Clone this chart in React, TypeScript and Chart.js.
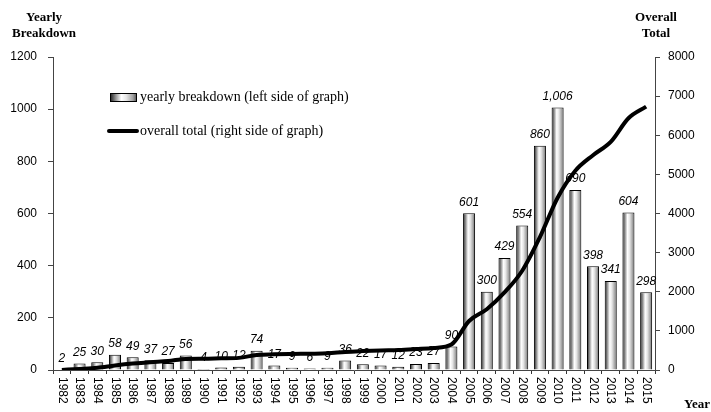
import React, { useEffect, useRef } from "react";
import { Chart, registerables } from "chart.js";

Chart.register(...registerables);

const years = [
  "1982", "1983", "1984", "1985", "1986", "1987", "1988", "1989", "1990", "1991", "1992",
  "1993", "1994", "1995", "1996", "1997", "1998", "1999", "2000", "2001", "2002", "2003",
  "2004", "2005", "2006", "2007", "2008", "2009", "2010", "2011", "2012", "2013", "2014", "2015",
];

const yearlyBreakdown = [
  2, 25, 30, 58, 49, 37, 27, 56, 4, 10, 12,
  74, 17, 9, 6, 9, 36, 22, 17, 12, 23, 27,
  90, 601, 300, 429, 554, 860, 1006, 690, 398, 341, 604, 298,
];

const overallTotal = [
  2, 27, 57, 115, 164, 201, 228, 284, 288, 298, 310,
  384, 401, 410, 416, 425, 461, 483, 500, 512, 535, 562,
  652, 1253, 1553, 1982, 2536, 3396, 4402, 5092, 5490, 5831, 6435, 6733,
];

const leftTicks = [0, 200, 400, 600, 800, 1000, 1200];
const rightTicks = [0, 1000, 2000, 3000, 4000, 5000, 6000, 7000, 8000];

const BAR_FRACTION = 0.68;
const SANS = "'Liberation Sans', Arial, sans-serif";
const SERIF = "'Liberation Serif', 'Times New Roman', serif";

function barGradient(ctx: CanvasRenderingContext2D, x0: number, x1: number) {
  const g = ctx.createLinearGradient(x0, 0, x1, 0);
  g.addColorStop(0, "#1a1a1a");
  g.addColorStop(0.2, "#8a8a8a");
  g.addColorStop(0.42, "#ffffff");
  g.addColorStop(0.6, "#e6e6e6");
  g.addColorStop(0.85, "#a0a0a0");
  g.addColorStop(1, "#4a4a4a");
  return g;
}

const overlayPlugin = {
  id: "overlay",
  afterDatasetDraw(chart: any, args: any) {
    if (args.index !== 0) return;
    const ctx = chart.ctx as CanvasRenderingContext2D;
    const meta = chart.getDatasetMeta(0);
    ctx.save();
    ctx.font = `italic 12px ${SANS}`;
    ctx.fillStyle = "#000";
    ctx.textAlign = "center";
    ctx.textBaseline = "bottom";
    meta.data.forEach((el: any, i: number) => {
      const v = yearlyBreakdown[i];
      ctx.fillText(v.toLocaleString("en-US"), el.x, el.y - 5);
    });
    ctx.restore();
  },
  afterDraw(chart: any) {
    const ctx = chart.ctx as CanvasRenderingContext2D;
    const xs = chart.scales.x;
    const area = chart.chartArea;
    ctx.save();
    ctx.font = `12px ${SANS}`;
    ctx.fillStyle = "#000";
    ctx.textAlign = "left";
    ctx.textBaseline = "middle";
    years.forEach((label, i) => {
      const x = xs.getPixelForValue(i);
      ctx.save();
      ctx.translate(x, area.bottom + 7);
      ctx.rotate(Math.PI / 2);
      ctx.fillText(label, 0, 0);
      ctx.restore();
    });

    ctx.font = `bold 13px ${SERIF}`;
    ctx.textAlign = "center";
    ctx.textBaseline = "middle";
    ctx.fillText("Yearly", 44, 18);
    ctx.fillText("Breakdown", 44, 34);
    ctx.fillText("Overall", 656, 18);
    ctx.fillText("Total", 656, 34);
    ctx.fillText("Year", 697, 405);

    const lx = 110;
    ctx.fillStyle = barGradient(ctx, lx, lx + 27);
    ctx.fillRect(lx, 93, 27, 9);
    ctx.strokeStyle = "#000";
    ctx.lineWidth = 1;
    ctx.strokeRect(lx + 0.5, 93.5, 26, 8);
    ctx.fillStyle = "#000";
    ctx.font = `14px ${SERIF}`;
    ctx.textAlign = "left";
    ctx.textBaseline = "middle";
    ctx.fillText("yearly breakdown (left side of graph)", lx + 30, 97);

    ctx.beginPath();
    ctx.lineWidth = 4;
    ctx.lineCap = "round";
    ctx.moveTo(lx - 1, 131);
    ctx.lineTo(lx + 27, 131);
    ctx.stroke();
    ctx.fillText("overall total (right side of graph)", lx + 30, 131);
    ctx.restore();
  },
};

export default function App() {
  const canvasRef = useRef<HTMLCanvasElement | null>(null);

  useEffect(() => {
    document.body.style.margin = "0";
    const canvas = canvasRef.current;
    if (!canvas) return;
    const chart = new Chart(canvas, {
      type: "bar",
      data: {
        labels: years,
        datasets: [
          {
            type: "bar",
            label: "yearly breakdown (left side of graph)",
            data: yearlyBreakdown,
            yAxisID: "y",
            order: 2,
            borderColor: "#000",
            borderWidth: 1,
            barPercentage: BAR_FRACTION,
            categoryPercentage: 1,
            backgroundColor: (c: any) => {
              const ch = c.chart;
              const xs = ch.scales && ch.scales.x;
              if (!xs || c.dataIndex == null) return "#cccccc";
              const cx = xs.getPixelForValue(c.dataIndex);
              const w = (xs.width / years.length) * BAR_FRACTION;
              if (!isFinite(cx) || !isFinite(w) || w <= 0) return "#cccccc";
              return barGradient(ch.ctx, cx - w / 2, cx + w / 2);
            },
          } as any,
          {
            type: "line",
            label: "overall total (right side of graph)",
            data: overallTotal,
            yAxisID: "y1",
            order: 1,
            borderColor: "#000",
            borderWidth: 4,
            pointRadius: 0,
            cubicInterpolationMode: "monotone",
            fill: false,
          } as any,
        ],
      },
      options: {
        animation: false,
        responsive: true,
        maintainAspectRatio: false,
        layout: { padding: { top: 57, left: 0, right: 0, bottom: 0 } },
        plugins: {
          legend: { display: false },
          tooltip: { enabled: false },
        },
        scales: {
          x: {
            offset: true,
            grid: {
              display: true,
              offset: true,
              drawOnChartArea: false,
              drawTicks: true,
              tickLength: 4,
              color: "#333",
            },
            border: { display: true, color: "#444", width: 1 },
            ticks: { display: false },
            afterFit: (s: any) => {
              s.height = 42;
            },
          },
          y: {
            position: "left",
            min: 0,
            max: 1200,
            afterBuildTicks: (s: any) => {
              s.ticks = leftTicks.map((v) => ({ value: v }));
            },
            grid: { drawOnChartArea: false, tickLength: 5, color: "#444" },
            border: { display: true, color: "#444", width: 1 },
            ticks: {
              color: "#000",
              padding: 11,
              font: { family: SANS, size: 12 },
              callback: (v: any) => String(v),
            },
            afterFit: (s: any) => {
              s.width = 53;
            },
          },
          y1: {
            position: "right",
            min: 0,
            max: 8000,
            afterBuildTicks: (s: any) => {
              s.ticks = rightTicks.map((v) => ({ value: v }));
            },
            grid: { drawOnChartArea: false, tickLength: 5, color: "#444" },
            border: { display: true, color: "#444", width: 1 },
            ticks: {
              color: "#000",
              padding: 8,
              font: { family: SANS, size: 12 },
              callback: (v: any) => String(v),
            },
            afterFit: (s: any) => {
              s.width = 56;
            },
          },
        },
      },
      plugins: [overlayPlugin],
    });
    return () => chart.destroy();
  }, []);

  return (
    <div style={{ position: "relative", width: 711, height: 412 }}>
      <canvas ref={canvasRef} style={{ display: "block" }} />
    </div>
  );
}
